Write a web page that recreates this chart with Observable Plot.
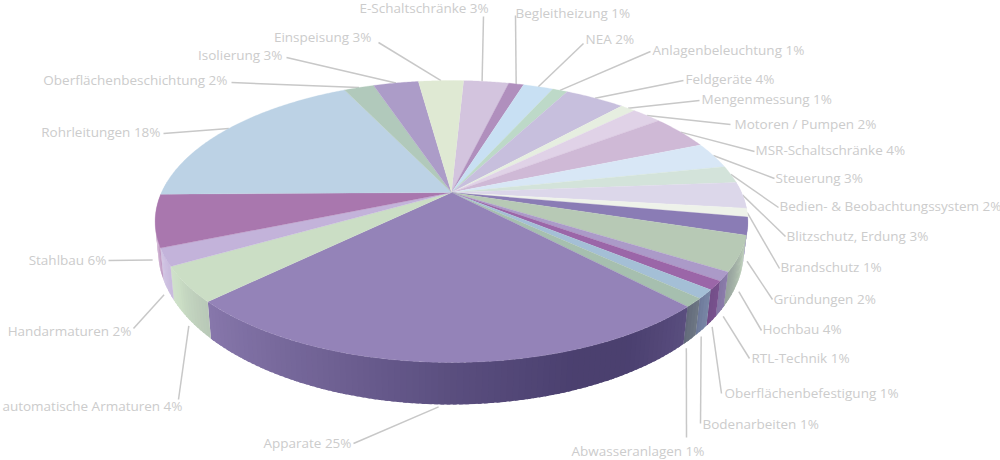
<!DOCTYPE html>
<html><head><meta charset="utf-8">
<style>html,body{margin:0;padding:0;background:#fff}svg{display:block}</style>
<script src="https://cdn.jsdelivr.net/npm/d3@7"></script>
<script src="https://cdn.jsdelivr.net/npm/@observablehq/plot@0.6"></script>
</head><body><div id="chart"></div>
<script>
// Data, clockwise from the top of the pie
const names = ["E-Schaltschränke","Begleitheizung","NEA","Anlagenbeleuchtung","Feldgeräte","Mengenmessung","Motoren / Pumpen","MSR-Schaltschränke","Steuerung","Bedien- & Beobachtungssystem","Blitzschutz, Erdung","Brandschutz","Gründungen","Hochbau","RTL-Technik","Oberflächenbefestigung","Bodenarbeiten","Abwasseranlagen","Apparate","automatische Armaturen","Handarmaturen","Stahlbau","Rohrleitungen","Oberflächenbeschichtung","Isolierung","Einspeisung"];
const shares = [3,1,2,1,4,1,2,4,3,2,3,1,2,4,1,1,1,1,25,4,2,6,18,2,3,3];
const colors = ["#d3c4de","#b08fbd","#c8e0f3","#bdd9c8","#c7bfdd","#e6eee0","#e0d2e7","#cfb9d6","#d8e7f6","#d3e3da","#dcd7ea","#eef2ea","#8a7cb5","#b7c9b5","#ab9ac8","#9b66a8","#a4bfd6","#a6bfaf","#9483b8","#cbdec5","#c3b3da","#a977ae","#bcd2e5","#b1c9bb","#ac9cc8","#dfe9d3"];

// Label layout: [x, y, anchor]
const labelAt = [[359,8,"start"],[515,13,"start"],[585,39,"start"],[652,50,"start"],[685,79,"start"],[701,99,"start"],[734,124,"start"],[755,150,"start"],[775,178,"start"],[779,206,"start"],[786,236,"start"],[780,267,"start"],[773,299,"start"],[762,329,"start"],[751,358,"start"],[724,393,"start"],[702,424,"start"],[571,451,"start"],[351,443,"end"],[182,406,"end"],[131,331,"end"],[106,260,"end"],[160,132,"end"],[227,80,"end"],[282,55,"end"],[371,37,"end"]];
const leaderAnchor = [[483,16],[515,15],[583,43],[650,51],[683,80],[699,100],[730,124],[754,151],[774,178],[778,207],[785,236],[779,268],[772,299],[761,330],[749,358],[721,393],[700,423],[686,437],[353,443],[178,399],[133,328],[108,260],[163,133],[231,82],[286,57],[378,42]];

// Perspective of the disc
const topRim = {cx:451, cy:192, R:290, b:135, k:0.2057};
const botRim = {cx:450.5, cy:219, R:287, b:148, k:0.2};
const startDeg = -87.1;
const rad = d => d * Math.PI / 180;
const project = (p, deg) => {
  const X = Math.cos(rad(deg)), Y = Math.sin(rad(deg)), D = 1 - p.k * Y;
  return [p.cx + p.R * X / D, p.cy + p.b * Y / D];
};

// Side-wall light: [angle, darkness]; negative values wash toward white
const light = [[0,-.2],[15,-.1],[25,.1],[32,.25],[40,.38],[46,.55],[60,.7],[70,.7],[90,.55],[110,.35],[133,.15],[145,.03],[158,-.25],[170,-.55],[180,-.55]];
const lightAt = d3.scaleLinear().domain(light.map(d => d[0])).range(light.map(d => d[1]));
const shade = (c, deg) => {
  const t = lightAt(deg);
  return t >= 0 ? d3.interpolateRgb(c, "#2b2350")(t) : d3.interpolateRgb(c, "#ffffff")(-t);
};

const total = d3.sum(shares);
let acc = 0;
const wedges = names.map((n, i) => {
  const a0 = startDeg + acc / total * 360;
  acc += shares[i];
  const a1 = startDeg + acc / total * 360;
  return {name:n, color:colors[i], a0, a1, mid:(a0+a1)/2, label:`${n} ${shares[i]}%`, at:labelAt[i]};
});

const facePts = [];
wedges.forEach((w, i) => {
  facePts.push({id:i, color:w.color, p:[topRim.cx, topRim.cy]});
  const n = Math.ceil(w.a1 - w.a0) * 2;
  for (let j = 0; j <= n; j++) facePts.push({id:i, color:w.color, p:project(topRim, w.a0 + (w.a1-w.a0)*j/n)});
});

const wallPts = [];
let sid = 0;
wedges.forEach(w => {
  const lo0 = Math.max(w.a0, -5), hi0 = Math.min(w.a1, 185);
  if (hi0 <= lo0) return;
  for (let d = lo0; d < hi0; d += 1) {
    const lo = d, hi = Math.min(hi0, d + 1.6);
    const col = shade(w.color, Math.min(180, Math.max(0, lo + 0.5)));
    [project(topRim,lo), project(topRim,hi), project(botRim,hi), project(botRim,lo)].forEach(p => wallPts.push({id:sid, color:col, p}));
    sid++;
  }
});

// Leaders run from the label toward the rim at the wedge's middle angle
const nudge = {"Stahlbau":-3.5, "E-Schaltschränke":-1, "Abwasseranlagen":1};
const leaderPts = wedges.map((w, i) => {
  const m = w.mid + (nudge[w.name] || 0);
  const a = ((m % 360) + 360) % 360;
  const front = a > 12 && a < 172;
  const [rx, ry] = project(front ? botRim : topRim, m);
  const [x, y] = leaderAnchor[i];
  const len = Math.hypot(x-rx, y-ry), g = front ? 6 : 0;
  return {x1:x, y1:y, x2: rx + (x-rx)/len*g, y2: ry + (y-ry)/len*g};
});

const textStyle = {x:d=>d.at[0], y:d=>d.at[1], text:"label", fill:"#cccccc", fontSize:13.5, fontFamily:"'Open Sans'"};
const chart = Plot.plot({
  width:1000, height:460, margin:0,
  x:{domain:[0,1000], range:[0,1000], axis:null},
  y:{domain:[0,460], range:[0,460], axis:null},
  color:{type:"identity"},
  style:{background:"#fff"},
  marks:[
    Plot.link(leaderPts, {x1:"x1", y1:"y1", x2:"x2", y2:"y2", stroke:"#c8c8c8", strokeWidth:1.5}),
    Plot.line(wallPts, {x:d=>d.p[0], y:d=>d.p[1], z:"id", fill:"color", stroke:"none"}),
    Plot.line(facePts, {x:d=>d.p[0], y:d=>d.p[1], z:"id", fill:"color", stroke:"color", strokeWidth:0.3}),
    Plot.text(wedges.filter(d=>d.at[2]==="start"), {...textStyle, textAnchor:"start"}),
    Plot.text(wedges.filter(d=>d.at[2]==="end"), {...textStyle, textAnchor:"end"})
  ]
});
document.getElementById("chart").append(chart);
</script></body></html>
